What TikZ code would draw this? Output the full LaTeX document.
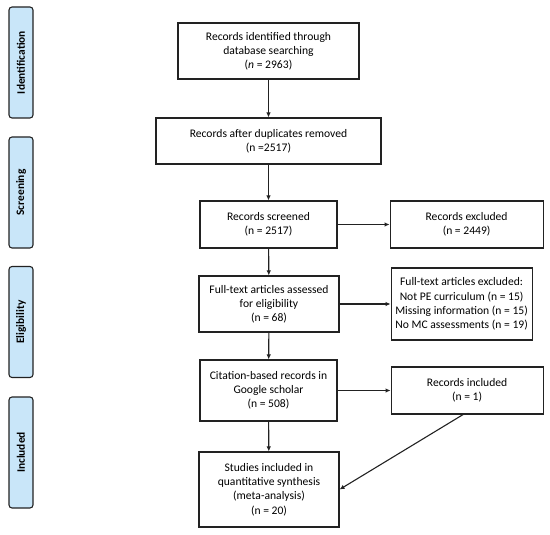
\documentclass[tikz,border=0pt]{standalone}
\usepackage{fontspec}
\setmainfont{Carlito}
\usetikzlibrary{arrows.meta,positioning}
\definecolor{phase}{HTML}{C9E6F9}
\definecolor{ink}{HTML}{222222}

\begin{document}
\begin{tikzpicture}[x=1pt,y=-1pt,font=\fontsize{11.6}{14.2}\selectfont,>={Latex[length=5pt,width=4.5pt]},
box/.style={draw=ink,line width=1.1pt,align=center,inner sep=2pt},
stage/.style={draw=ink,line width=1.1pt,fill=phase,rounded corners=3pt,minimum width=111pt,minimum height=24pt,rotate=90,font=\fontsize{11.4}{14}\selectfont\bfseries}]
 \useasboundingbox (0,0) rectangle (550,535);
 % phase labels
 \foreach \name/\y in {Identification/62.5,Screening/192.5,Eligibility/322,Included/452.5}
  \node[stage] (\name) at (21,\y) {\name};
 % main column
 \node[box,minimum width=181pt,minimum height=56pt] (search) at (268.5,51) {Records identified through\\database searching\\(\textit{n} = 2963)};
 \node[box,minimum width=225pt,minimum height=46pt] (dupes) at (268.5,141) {Records after duplicates removed\\(n =2517)};
 \node[box,minimum width=137pt,minimum height=47pt] (screened) at (268.5,224.5) {Records screened\\(n = 2517)};
 \node[box,minimum width=140pt,minimum height=56pt] (fulltext) at (269,304) {Full-text articles assessed\\for eligibility\\(n = 68)};
 \node[box,minimum width=137pt,minimum height=61pt] (citation) at (268.5,390.5) {Citation-based records in\\Google scholar\\(n = 508)};
 \node[box,minimum width=140pt,minimum height=75pt] (studies) at (269,489.5) {Studies included in\\quantitative synthesis\\(meta-analysis)\\(n = 20)};
 % side boxes
 \node[box,minimum width=153pt,minimum height=47pt,right=52pt of screened] (excluded) {Records excluded\\(n = 2449)};
 \node[box,minimum width=141pt,minimum height=72pt,right=51pt of fulltext] (ftexcl) {Full-text articles excluded:\\Not PE curriculum (n = 15)\\Missing information (n = 15)\\No MC assessments (n = 19)};
 \node[box,minimum width=152pt,minimum height=47pt,right=53pt of citation] (incl) {Records included\\(n = 1)};
 % connectors
 \draw[->,line width=1.1pt,ink] (search) -- (dupes);
 \draw[->,line width=1.1pt,ink] (dupes) -- (screened);
 \draw[->,line width=1.1pt,ink] (screened) -- (fulltext);
 \draw[->,line width=1.1pt,ink] (fulltext) -- (citation);
 \draw[->,line width=1.1pt,ink] (citation) -- (studies);
 \draw[->,line width=1.1pt,ink] (screened) -- (excluded);
 \draw[->,line width=1.1pt,ink] (fulltext) -- (ftexcl);
 \draw[->,line width=1.1pt,ink] (citation) -- (incl);
 \draw[->,line width=1.1pt,ink] ([xshift=-4pt]incl.south) -- (studies.east);
\end{tikzpicture}
\end{document}
